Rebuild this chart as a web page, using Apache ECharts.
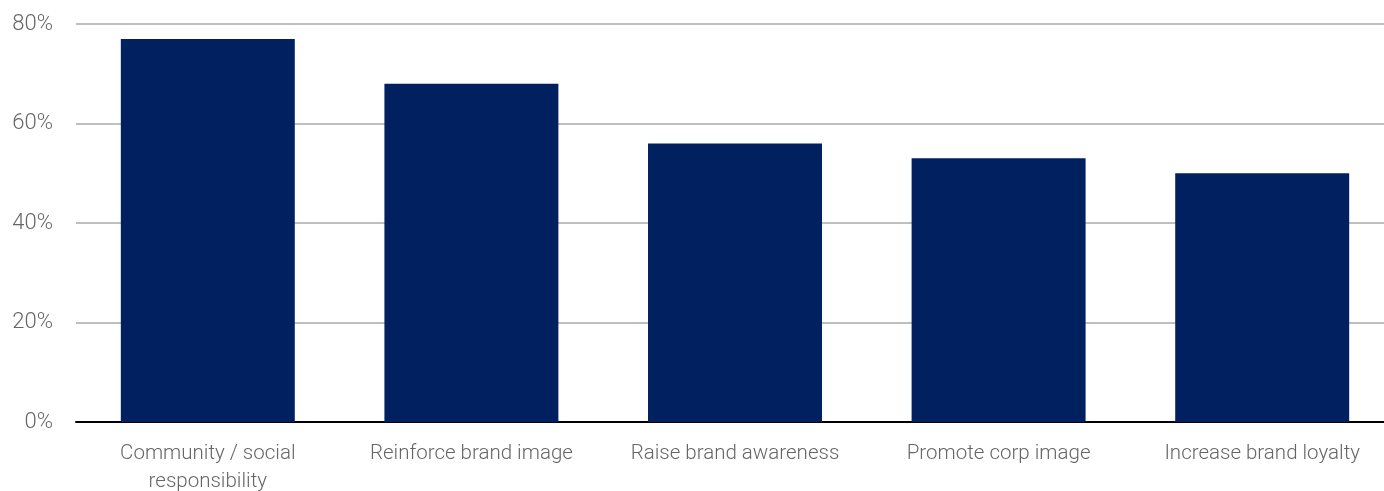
<!DOCTYPE html>
<html>
<head>
<meta charset="UTF-8">
<script src="https://cdn.jsdelivr.net/npm/echarts@6/dist/echarts.min.js"></script>
<style>
  html, body { margin: 0; padding: 0; background: #fff; }
  #main { width: 1384px; height: 491px; }
</style>
</head>
<body>
<div id="main"></div>
<script>
// categories and values (% of respondents)
var categories = ['Community / social\nresponsibility', 'Reinforce brand image', 'Raise brand awareness', 'Promote corp image', 'Increase brand loyalty'];
var values = [77, 68, 56, 53, 50];
var yTicks = [0, 20, 40, 60, 80];

var myChart = echarts.init(document.getElementById('main'));
var option = {
    animation: false,
    grid: { left: 76, right: -10, top: 24, bottom: 69, containLabel: false, outerBoundsMode: 'none' },
    xAxis: {
        type: 'category',
        data: categories,
        axisTick: { show: false },
        axisLine: { lineStyle: { color: '#000', width: 2 } },
        axisLabel: {
            color: '#666',
            fontFamily: 'Roboto',
            fontWeight: 300,
            fontSize: 20.5,
            lineHeight: 28,
            margin: 18,
            interval: 0
        }
    },
    yAxis: {
        type: 'value',
        min: yTicks[0],
        max: yTicks[yTicks.length - 1],
        interval: 20,
        axisLine: { show: false },
        axisTick: { show: false },
        splitLine: { lineStyle: { color: '#bfbfbf', width: 2 } },
        axisLabel: {
            color: '#666',
            fontFamily: 'Roboto',
            fontWeight: 300,
            fontSize: 22,
            margin: 23,
            formatter: '{value}%'
        }
    },
    series: [{
        type: 'bar',
        data: values,
        barCategoryGap: '34%',
        itemStyle: { color: '#002060' }
    }]
};
myChart.setOption(option);
</script>
</body>
</html>
